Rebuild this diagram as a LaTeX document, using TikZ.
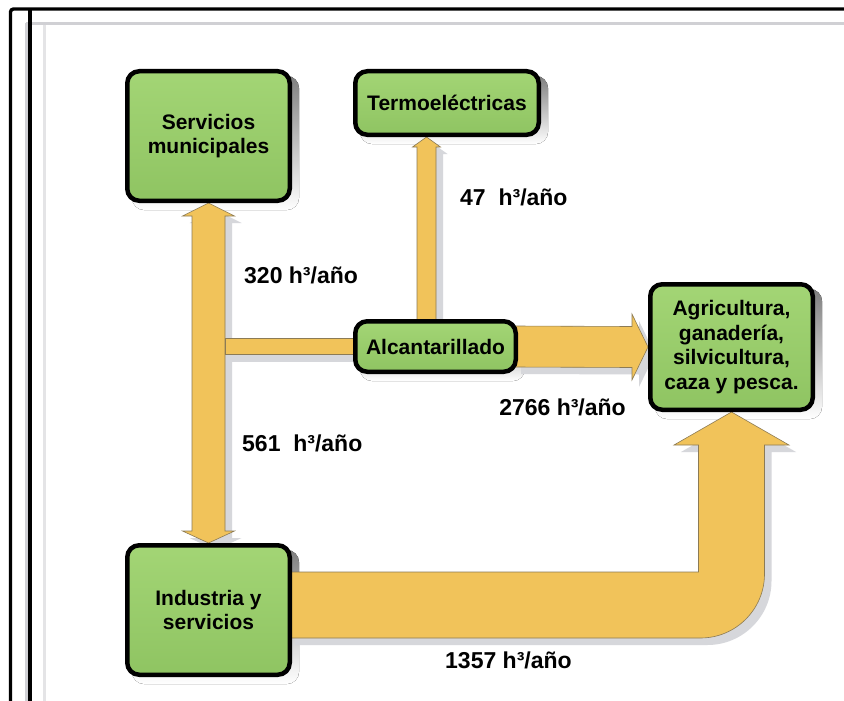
\documentclass[tikz,border=0pt]{standalone}
\usepackage{fontspec}
\setmainfont{Liberation Sans}
\usetikzlibrary{calc}

\definecolor{boxgreenA}{HTML}{A3D575}
\definecolor{boxgreenB}{HTML}{8FC462}
\definecolor{flowY}{HTML}{F1C35A}
\definecolor{flowEdge}{HTML}{8C7B55}
\definecolor{shade}{HTML}{D6D7DB}
\definecolor{frameGray}{HTML}{D0D0D4}
\definecolor{frameLight}{HTML}{E4E4E6}

\pgfdeclarelayer{paper}
\pgfdeclarelayer{shadowlayer}
\pgfdeclarelayer{flowlayer}
\pgfsetlayers{paper,shadowlayer,flowlayer,main}

% all flow arrows, drawn with the style given as argument
\newcommand{\waterflows}[1]{%
  % Servicios municipales <-> Industria y servicios
  \path[#1] (serv.south) -- ++(26,13) -- ++(-9.5,0)
    -- ($(ind.north)+(16.5,-12)$) -- ++(9.5,0) -- (ind.north)
    -- ++(-26,-12) -- ++(9.5,0) -- ($(serv.south)+(-16.5,13)$)
    -- ++(-9.5,0) -- cycle;
  % branch into Alcantarillado
  \path[#1] ($(serv.south |- alc.west)+(16.5,-8)$) rectangle ($(alc.west)+(4,8)$);
  % Alcantarillado -> Termoelectricas
  \path[#1] (ttip) -- ++(14,10) -- ++(-4.5,0) -- ($(tbase)+(9.5,4)$)
    -- ++(-19,0) -- ($(ttip)+(-9.5,10)$) -- ++(-4.5,0) -- cycle;
  % Alcantarillado -> Agricultura
  \path[#1] ($(alc.east)+(-4,-20.5)$) -- ($(agri.west)+(-16,-20.5)$)
    -- ++(0,-12.5) -- (agri.west) -- ($(agri.west)+(-16,33)$)
    -- ++(0,-12.5) -- ($(alc.east)+(-4,20.5)$) -- cycle;
  % Industria -> Agricultura (bent)
  \path[#1] ($(lstart)+(-4,-33)$) -- ($(lbend)+(-33,-33)$)
    -- ($(agri.south)+(-33,33)$) -- ++(-24.5,0) -- (agri.south)
    -- ($(agri.south)+(57.5,33)$) -- ++(-24.5,0) -- ($(lbend)+(33,-31)$)
    .. controls ($(lbend)+(33,4.3)$) and ($(lbend)+(4.3,33)$) .. ($(lbend)+(-31,33)$)
    -- ($(lstart)+(-4,33)$) -- cycle;
}

\begin{document}
\begin{tikzpicture}[x=1pt,y=-1pt,
  box/.style={draw=black, line width=4.5pt, rounded corners=12pt,
    top color=boxgreenA, bottom color=boxgreenB, align=center,
    font=\fontsize{21}{24.5}\selectfont\bfseries, inner sep=0pt},
  flow/.style={fill=flowY, draw=flowEdge, line width=0.6pt},
  flowshadow/.style={fill=shade, draw=none},
  qty/.style={font=\fontsize{23}{27}\selectfont\bfseries, inner sep=0pt, anchor=west},
]
\useasboundingbox (0,0) rectangle (844,701);
\begin{pgfonlayer}{paper}
  \fill[white] (0,0) rectangle (844,701);
\end{pgfonlayer}

% page frame
\draw[frameGray, line width=3pt] (26,23.5) -- (26,720);
\draw[frameGray, line width=3pt] (26,23.5) -- (860,23.5);
\draw[frameLight, line width=3pt] (44.5,25) -- (44.5,720);
\draw[line width=3.4pt, rounded corners=3pt] (10.5,720) -- (10.5,9) -- (860,9);
\draw[line width=3.4pt] (30,9) -- (30,720);

% boxes
\node[box, minimum width=162.5pt, minimum height=129.5pt] (serv) at (208.5,136) {Servicios\\municipales};
\node[box, minimum width=183.5pt, minimum height=63.5pt] (termo) at (447,103) {Termoeléctricas};
\node[box, minimum width=160.5pt, minimum height=50.5pt] (alc) at (435.5,346.5) {Alcantarillado};
\node[box, minimum width=162.5pt, minimum height=125.5pt] (agri) at (731.5,347) {Agricultura,\\ganadería,\\silvicultura,\\caza y pesca.};
\node[box, minimum width=162.5pt, minimum height=129.5pt] (ind) at (208.5,610) {Industria y\\servicios};

% helper points of the flows
\coordinate (tbase) at ($(alc.north)+(-9,0)$);
\coordinate (ttip) at (tbase |- termo.south);
\coordinate (lstart) at ($(ind.east)+(0,-5)$);
\coordinate (lbend) at (agri.south |- lstart);

% shadows
\begin{pgfonlayer}{shadowlayer}
  \foreach \b in {serv,termo,alc,agri,ind}
    \fill[shade, rounded corners=12pt] ($(\b.south west)+(7,7)$) rectangle ($(\b.north east)+(7,7)$);
  \begin{scope}[transform canvas={xshift=7pt,yshift=-7pt}]
    \waterflows{flowshadow}
  \end{scope}
\end{pgfonlayer}

% flows
\begin{pgfonlayer}{flowlayer}
  \waterflows{flow}
\end{pgfonlayer}

% quantities
\node[qty] (q47) at (460,197) {47\ \ h³/año};
\node[qty] (q320) at (244,275) {320 h³/año};
\node[qty, anchor=east] (q2766) at (626,407) {2766 h³/año};
\node[qty] (q561) at (242,443) {561\ \ h³/año};
\node[qty] (q1357) at (445,660) {1357 h³/año};
\end{tikzpicture}
\end{document}
